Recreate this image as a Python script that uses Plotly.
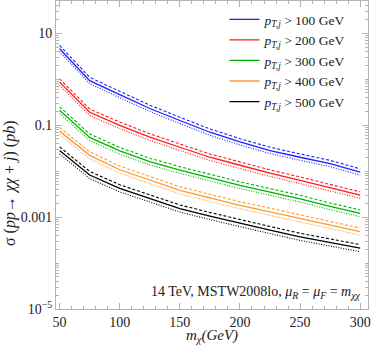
import plotly.graph_objects as go

# dark matter mass points (GeV)
m_chi = [50, 75, 100, 125, 150, 175, 200, 225, 250, 275, 300]

# central cross sections (pb) for each jet pT cut
sigma_pt100 = [4.6, 0.93, 0.46, 0.23, 0.126, 0.07, 0.043, 0.028, 0.020, 0.0145, 0.0095]
sigma_pt200 = [0.86, 0.19, 0.099, 0.055, 0.033, 0.020, 0.0134, 0.0090, 0.0063, 0.0043, 0.0030]
sigma_pt300 = [0.21, 0.054, 0.0275, 0.016, 0.0105, 0.0071, 0.0049, 0.0035, 0.0025, 0.0017, 0.0012]
sigma_pt400 = [0.074, 0.022, 0.0107, 0.0063, 0.0038, 0.0026, 0.0018, 0.0013, 0.00093, 0.00066, 0.00048]
sigma_pt500 = [0.028, 0.0082, 0.0042, 0.0025, 0.00153, 0.00105, 0.00073, 0.00052, 0.00037, 0.00028, 0.00021]

# scale variation band (upper dashed / lower dotted, relative to central)
band_up = [1.18, 1.18, 1.19, 1.2, 1.2]
band_down = [0.86, 0.85, 0.85, 0.84, 0.84]

cuts = ["100", "200", "300", "400", "500"]
series = [sigma_pt100, sigma_pt200, sigma_pt300, sigma_pt400, sigma_pt500]
colors = ["#1f1fff", "#ff1a1a", "#00b400", "#ff9a30", "#000000"]

fig = go.Figure()

for cut, sig, col, up, dn in zip(cuts, series, colors, band_up, band_down):
    fig.add_trace(go.Scatter(x=m_chi, y=[s * up for s in sig], mode="lines",
                             line=dict(color=col, width=1.1, dash="3px,2px"),
                             showlegend=False, hoverinfo="skip"))
    fig.add_trace(go.Scatter(x=m_chi, y=[s * dn for s in sig], mode="lines",
                             line=dict(color=col, width=1.1, dash="1px,1.5px"),
                             showlegend=False, hoverinfo="skip"))
    fig.add_trace(go.Scatter(x=m_chi, y=sig, mode="lines",
                             line=dict(color=col, width=1.3),
                             name="<i>p</i><sub><i>T,j</i></sub> > " + cut + " GeV"))

frame_col = "#b4b4b4"
text_col = "#222222"
tick_font = dict(family="Liberation Serif", size=14, color=text_col)

fig.update_xaxes(range=[47, 306.5], tickvals=[50, 100, 150, 200, 250, 300],
                 ticks="inside", ticklen=6, tickcolor=frame_col,
                 minor=dict(dtick=10, tick0=0, ticks="inside", ticklen=3, tickcolor=frame_col),
                 showline=True, linecolor=frame_col, linewidth=1, mirror="ticks",
                 showgrid=False, zeroline=False, tickfont=tick_font)

minor_y = []
for e in range(-5, 2):
    for k in range(1, 10):
        minor_y.append(k * 10.0 ** e)

fig.update_yaxes(type="log", range=[-5, 1.7],
                 tickvals=[10, 0.1, 0.001, 1e-5],
                 ticktext=["10", "0.1", "0.001", "10<sup>−5</sup>"],
                 ticks="inside", ticklen=6, tickcolor=frame_col,
                 minor=dict(tickvals=minor_y, ticks="inside", ticklen=3, tickcolor=frame_col),
                 showline=True, linecolor=frame_col, linewidth=1, mirror="ticks",
                 showgrid=False, zeroline=False, tickfont=tick_font)

# axis titles as annotations so the plot frame keeps its size
fig.add_annotation(text="<i>m</i><sub><i>χ</i></sub><i>(GeV)</i>",
                   xref="paper", yref="paper", x=0.5, y=-0.088, yanchor="middle",
                   showarrow=False, font=dict(family="Liberation Serif", size=15, color=text_col))

fig.add_annotation(text="σ (<i>pp</i>→ <i>χχ</i> + <i>j</i>) (<i>pb</i>)",
                   xref="paper", yref="paper", x=-0.185, y=0.41, textangle=-90,
                   showarrow=False, font=dict(family="Liberation Serif", size=16, color=text_col))

fig.add_annotation(text="14 TeV, MSTW2008lo, <i>μ</i><sub><i>R</i></sub> = <i>μ</i><sub><i>F</i></sub> = <i>m</i><sub><i>χχ</i></sub>",
                   xref="paper", yref="paper", x=0.985, y=0.02, xanchor="right", yanchor="bottom",
                   showarrow=False, font=dict(family="Liberation Serif", size=14, color=text_col))

fig.update_layout(width=374, height=350,
                  margin=dict(l=56, r=6, t=1, b=41),
                  paper_bgcolor="white", plot_bgcolor="white",
                  legend=dict(x=0.54, y=0.99, xanchor="left", yanchor="top",
                              bgcolor="rgba(0,0,0,0)", tracegroupgap=0, itemwidth=30,
                              font=dict(family="Liberation Serif", size=13.5, color=text_col)),
                  showlegend=True)

fig.write_html("out.html", config={"displayModeBar": False},
               post_script="document.body.style.margin='0';")
